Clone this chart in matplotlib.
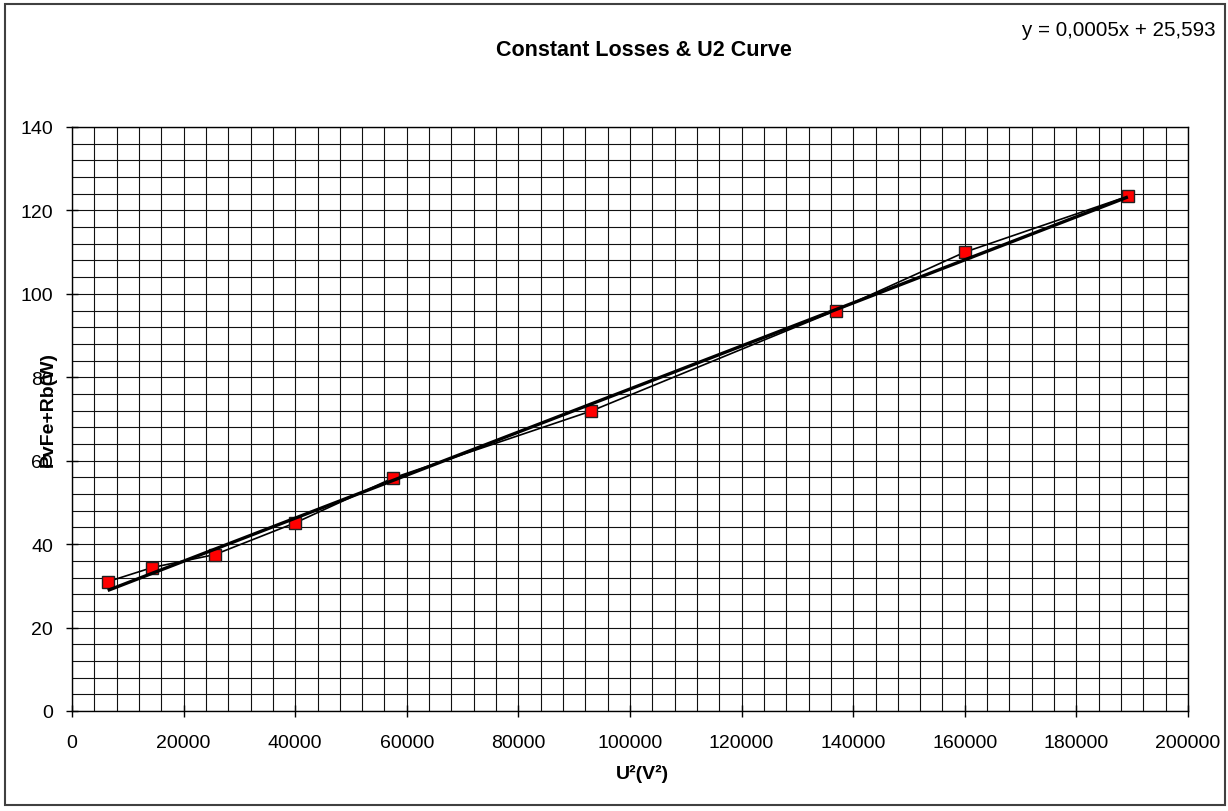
import matplotlib
matplotlib.use("Agg")
import matplotlib.pyplot as plt
from matplotlib.patches import Rectangle
from matplotlib.ticker import MultipleLocator

plt.rcParams['font.family'] = ['Liberation Sans', 'DejaVu Sans']

# Measured constant losses against the square of the applied voltage
u_squared = [6400, 14400, 25600, 40000, 57600, 93025, 136900, 160000, 189225]
p_losses = [31.0, 34.4, 37.5, 45.1, 55.9, 71.9, 96.0, 110.0, 123.4]

# Linear trendline coefficients
trend_slope = 0.000516
trend_intercept = 25.593

x_ticks = [0, 20000, 40000, 60000, 80000, 100000, 120000, 140000, 160000, 180000, 200000]
y_ticks = [0, 20, 40, 60, 80, 100, 120, 140]

W, H = 1228, 812
fig = plt.figure(figsize=(W / 100, H / 100), dpi=100)
fig.patch.set_facecolor('white')

# chart border
fig.add_artist(Rectangle((5 / W, 1 - 806 / H), 1220 / W, 801 / H,
                         transform=fig.transFigure, fill=False,
                         edgecolor='#404040', linewidth=1.5))

ax = fig.add_axes([72 / W, 1 - 712 / H, 1116 / W, 584 / H])
ax.set_xlim(0, 200000)
ax.set_ylim(0, 140)
ax.set_xticks(x_ticks)
ax.set_yticks(y_ticks)
ax.set_xticklabels([str(v) for v in x_ticks])
ax.set_yticklabels([str(v) for v in y_ticks])
ax.xaxis.set_minor_locator(MultipleLocator(4000))
ax.yaxis.set_minor_locator(MultipleLocator(4))
ax.grid(which='both', color='#111111', linewidth=0.8)
ax.set_axisbelow(True)
ax.tick_params(which='major', direction='inout', length=9, width=1, labelsize=14, pad=9)
ax.tick_params(axis='x', which='major', pad=12)
ax.tick_params(which='minor', length=0)
for s in ax.spines.values():
    s.set_color('black')
    s.set_linewidth(1)

ax.plot(u_squared, p_losses, color='black', linewidth=1.2, marker='s',
        markersize=8, markerfacecolor='#ff0000', markeredgecolor='#202020',
        markeredgewidth=1.0, zorder=3)

x_fit = [min(u_squared), max(u_squared)]
y_fit = [trend_slope * x + trend_intercept for x in x_fit]
ax.plot(x_fit, y_fit, color='black', linewidth=2.4, zorder=4,
        solid_capstyle='butt')

fig.text(644 / W, 1 - 51 / H, 'Constant Losses & U2 Curve', ha='center',
         va='center', fontsize=15.5, fontweight='bold')
eq = 'y = {:.4f}x + {:.3f}'.format(trend_slope, trend_intercept).replace('.', ',')
fig.text(1215 / W, 1 - 31 / H, eq, ha='right', va='center', fontsize=14.8)
fig.text(642 / W, 1 - 774 / H, 'U²(V²)', ha='center', va='center',
         fontsize=14, fontweight='bold')
fig.text(48 / W, 1 - 410 / H, 'PvFe+Rb(W)', ha='center', va='center',
         rotation=90, fontsize=14, fontweight='bold')

fig.savefig('out.png', dpi=100)
